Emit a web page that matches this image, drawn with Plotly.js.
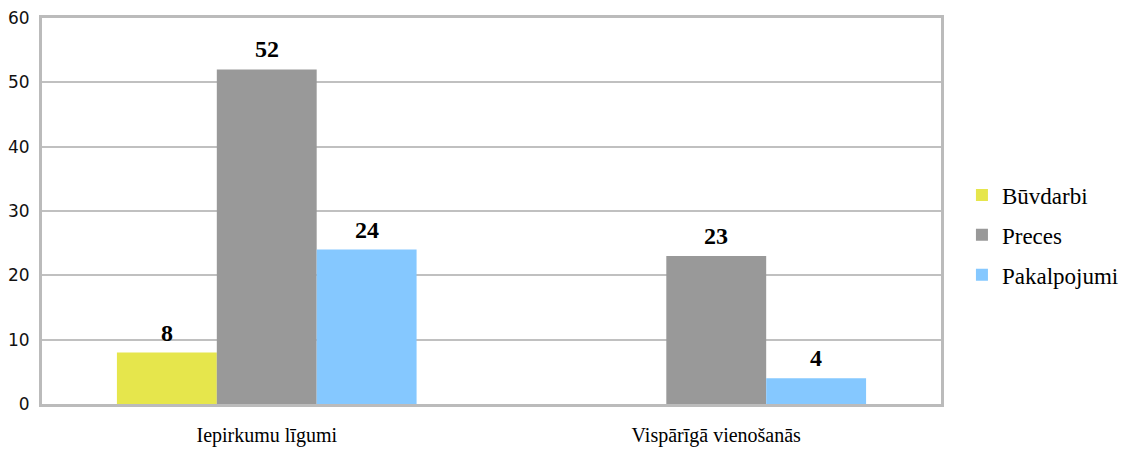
<!DOCTYPE html>
<html><head><meta charset="utf-8">
<script src="https://cdn.plot.ly/plotly-3.0.1.min.js"></script>
<style>body{margin:0;background:#fff}#c{width:1136px;height:450px}</style>
</head><body><div id="c"></div>
<script>
var categories = ["Iepirkumu līgumi", "Vispārīgā vienošanās"];
var seriesNames = ["Būvdarbi", "Preces", "Pakalpojumi"];
var buvdarbi = [8, null];
var preces = [52, 23];
var pakalpojumi = [24, 4];
var seriesValues = [buvdarbi, preces, pakalpojumi];
var colors = ["#e6e64c", "#999999", "#85c8ff"];
var yTicks = [0, 10, 20, 30, 40, 50, 60];

var traces = seriesValues.map(function (vals, i) {
  return {
    type: "bar", name: seriesNames[i], x: categories, y: vals,
    marker: {color: colors[i]}, legendgroup: "g" + i,
    hoverinfo: "none", offsetgroup: String(i)
  };
});

var annotations = [];
var offsets = [-1, 0, 1];
seriesValues.forEach(function (vals, i) {
  vals.forEach(function (v, j) {
    if (v === null) return;
    annotations.push({
      x: j + offsets[i] * (2 / 9), y: v, xref: "x", yref: "y",
      text: "<b>" + v + "</b>", showarrow: false, yanchor: "bottom", yshift: 5,
      font: {family: "Liberation Serif", size: 24, color: "#000"}
    });
  });
});

var layout = {
  width: 1136, height: 450,
  margin: {l: 42, r: 193, t: 18, b: 46},
  paper_bgcolor: "#fff", plot_bgcolor: "#fff",
  barmode: "group", bargap: 1 / 3, bargroupgap: 0,
  showlegend: true,
  legend: {x: 1.0233, y: 0.438, yanchor: "middle", xanchor: "left",
    font: {family: "Liberation Serif", size: 23, color: "#000"},
    tracegroupgap: 7, itemwidth: 30, borderwidth: 0},
  xaxis: {type: "category", showline: true, mirror: true, linecolor: "#bbbbbb", linewidth: 3,
    showgrid: false, ticks: "", ticklabelstandoff: 11, range: [-0.5, 1.5], automargin: false,
    tickfont: {family: "Liberation Serif", size: 20, color: "#000"}},
  yaxis: {range: [0, 60], tickvals: yTicks, showline: true, mirror: true, linecolor: "#bbbbbb", linewidth: 3,
    showgrid: true, gridcolor: "#c0c0c0", gridwidth: 2, zeroline: false, ticks: "", ticklabelstandoff: 6,
    automargin: false, tickfont: {family: "DejaVu Sans", size: 17, color: "#111"}},
  annotations: annotations
};

Plotly.newPlot("c", traces, layout, {displayModeBar: false, staticPlot: true});
</script></body></html>
